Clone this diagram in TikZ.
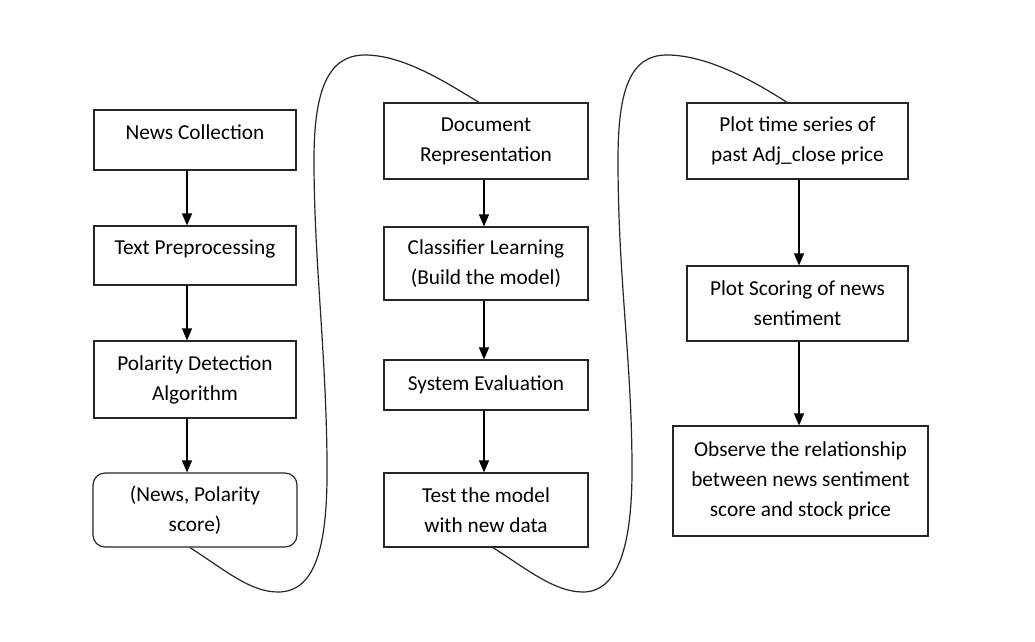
\documentclass[tikz,border=0pt]{standalone}
\usepackage{fontspec}
\setmainfont{Carlito}
\usetikzlibrary{arrows.meta}
\newcommand{\upline}[1]{\raisebox{1pt}[0pt][0pt]{#1}}
\begin{document}
\begin{tikzpicture}[x=1pt,y=-1pt,
  box/.style={draw=black!85, line width=1.2pt, align=center, inner sep=0pt,
    font=\fontsize{21.3}{30}\selectfont, text=black},
  flow/.style={line width=1.3pt, -{Triangle[width=10pt,length=12pt]}},
  wave/.style={line width=1.2pt, black!85}]
\useasboundingbox (0,0) rectangle (1035,641);
% column 1
\node[box, minimum width=202pt, minimum height=60pt] (n1) at (195,140) {\upline{News Collection}};
\node[box, minimum width=202pt, minimum height=59pt] (n2) at (195,255.5) {\upline{Text Preprocessing}};
\node[box, minimum width=202pt, minimum height=77pt] (n3) at (195,379.5) {Polarity Detection\\Algorithm};
\node[box, rounded corners=12pt, minimum width=204pt, minimum height=74pt] (n4) at (195,510) {(News, Polarity\\score)};
% column 2
\node[box, minimum width=204pt, minimum height=76pt] (m1) at (486,141) {Document\\Representation};
\node[box, minimum width=204pt, minimum height=73pt] (m2) at (486,263.5) {Classifier Learning\\(Build the model)};
\node[box, minimum width=204pt, minimum height=50pt] (m3) at (486,385) {System Evaluation};
\node[box, minimum width=204pt, minimum height=74pt] (m4) at (486,510) {Test the model\\with new data};
% column 3
\node[box, minimum width=221pt, minimum height=76pt] (p1) at (797.5,141) {Plot time series of\\past Adj\_close price};
\node[box, minimum width=221pt, minimum height=75pt] (p2) at (797.5,303.5) {Plot Scoring of news\\sentiment};
\node[box, minimum width=255pt, minimum height=110pt] (p3) at (800.5,481) {Observe the relationship\\between news sentiment\\score and stock price};
% arrow columns
\coordinate (ax1) at (187,0);
\coordinate (ax2) at (484,0);
\coordinate (ax3) at (799,0);
\draw[flow] (ax1 |- n1.south) -- (ax1 |- n2.north);
\draw[flow] (ax1 |- n2.south) -- (ax1 |- n3.north);
\draw[flow] (ax1 |- n3.south) -- (ax1 |- n4.north);
\draw[flow] (ax2 |- m1.south) -- (ax2 |- m2.north);
\draw[flow] (ax2 |- m2.south) -- (ax2 |- m3.north);
\draw[flow] (ax2 |- m3.south) -- (ax2 |- m4.north);
\draw[flow] (ax3 |- p1.south) -- (ax3 |- p2.north);
\draw[flow] (ax3 |- p2.south) -- (ax3 |- p3.north);
% connecting curves
\coordinate (s1) at (190,0);
\coordinate (e1) at (479,0);
\coordinate (s2) at (493,0);
\coordinate (e2) at (787,0);
\draw[wave] (s1 |- n4.south) .. controls (225,570) and (250,592) .. (278,592)
  .. controls (318,592) and (328,540) .. (327,460)
  .. controls (326,350) and (314,260) .. (314,160)
  .. controls (314,90) and (328,55) .. (365,55)
  .. controls (405,55) and (450,85) .. (e1 |- m1.north);
\draw[wave] (s2 |- m4.south) .. controls (528,570) and (555,592) .. (583,592)
  .. controls (620,592) and (632,540) .. (632,470)
  .. controls (632,360) and (618,280) .. (618,160)
  .. controls (618,90) and (630,55) .. (667,55)
  .. controls (710,55) and (760,85) .. (e2 |- p1.north);
\end{tikzpicture}
\end{document}
